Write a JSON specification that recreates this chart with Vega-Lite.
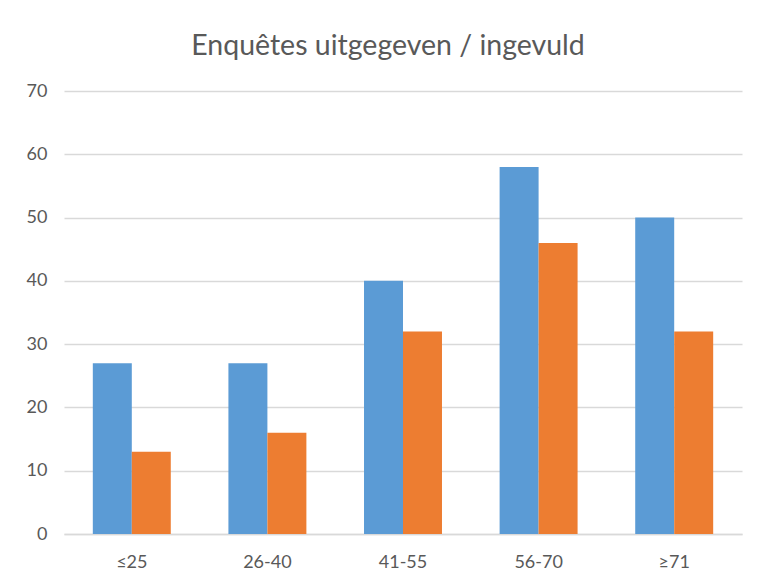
{
  "$schema": "https://vega.github.io/schema/vega-lite/v6.json",
  "autosize": {"type": "none"},
  "padding": {"left": 64, "top": 91, "right": 21, "bottom": 47},
  "width": 678,
  "height": 443,
  "background": "white",
  "title": {
    "text": "Enquêtes uitgegeven / ingevuld",
    "font": "Lato",
    "fontSize": 28.5,
    "fontWeight": "normal",
    "color": "#595959",
    "anchor": "middle",
    "frame": "group",
    "baseline": "alphabetic",
    "offset": 36,
    "dy": 37,
    "dx": -15
  },
  "data": {
    "values": [
      {"leeftijd": "≤25", "reeks": "uitgegeven", "aantal": 27},
      {"leeftijd": "≤25", "reeks": "ingevuld", "aantal": 13},
      {"leeftijd": "26-40", "reeks": "uitgegeven", "aantal": 27},
      {"leeftijd": "26-40", "reeks": "ingevuld", "aantal": 16},
      {"leeftijd": "41-55", "reeks": "uitgegeven", "aantal": 40},
      {"leeftijd": "41-55", "reeks": "ingevuld", "aantal": 32},
      {"leeftijd": "56-70", "reeks": "uitgegeven", "aantal": 58},
      {"leeftijd": "56-70", "reeks": "ingevuld", "aantal": 46},
      {"leeftijd": "≥71", "reeks": "uitgegeven", "aantal": 50},
      {"leeftijd": "≥71", "reeks": "ingevuld", "aantal": 32}
    ]
  },
  "mark": {"type": "bar"},
  "encoding": {
    "x": {
      "field": "leeftijd",
      "type": "nominal",
      "sort": ["≤25", "26-40", "41-55", "56-70", "≥71"],
      "scale": {"paddingInner": 0.425, "paddingOuter": 0.2125},
      "axis": {
        "title": null,
        "labelAngle": 0,
        "labelFont": "Lato",
        "labelFontSize": 18,
        "labelColor": "#595959",
        "labelPadding": 19,
        "ticks": false,
        "domain": true,
        "domainColor": "#D9D9D9",
        "domainWidth": 1.5
      }
    },
    "xOffset": {
      "field": "reeks",
      "type": "nominal",
      "sort": ["uitgegeven", "ingevuld"],
      "scale": {"paddingInner": 0, "paddingOuter": 0}
    },
    "y": {
      "field": "aantal",
      "type": "quantitative",
      "scale": {"domain": [0, 70], "nice": false},
      "axis": {
        "title": null,
        "values": [0, 10, 20, 30, 40, 50, 60, 70],
        "labelFont": "Lato",
        "labelFontSize": 18,
        "labelColor": "#595959",
        "labelPadding": 17,
        "ticks": false,
        "domain": false,
        "grid": true,
        "gridColor": "#D9D9D9",
        "gridWidth": 1.5
      }
    },
    "color": {
      "field": "reeks",
      "type": "nominal",
      "scale": {"domain": ["uitgegeven", "ingevuld"], "range": ["#5B9BD5", "#ED7D31"]},
      "legend": null
    }
  },
  "config": {"view": {"stroke": null}}
}
